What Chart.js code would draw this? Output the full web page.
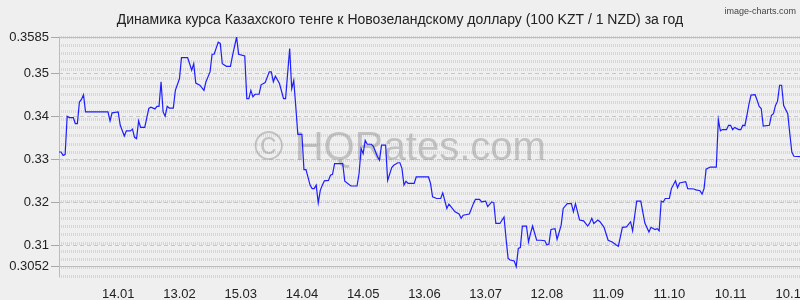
<!DOCTYPE html>
<html>
<head>
<meta charset="utf-8">
<script src="https://cdn.jsdelivr.net/npm/chart.js@4"></script>
<style>
  html, body { margin: 0; padding: 0; background: #efefef; overflow: hidden; }
  #wrap { width: 800px; height: 300px; position: relative; }
</style>
</head>
<body>
<div id="wrap"><canvas id="chart" width="800" height="300"></canvas></div>
<script>
const title = 'Динамика курса Казахского тенге к Новозеландскому доллару (100 KZT / 1 NZD) за год'

// day index from the first date of the period
const days = [
  0, 1, 2, 3, 4, 5, 7, 8, 9, 10, 11, 12, 13, 24, 25, 26, 29, 30, 32, 33,
  35, 36, 37, 38, 39, 40, 42, 44, 45, 47, 48, 49, 50, 51, 52, 53, 54, 56, 57, 59,
  60, 63, 64, 65, 66, 67, 69, 71, 72, 74, 75, 76, 78, 79, 80, 82, 84, 85, 87, 88,
  91, 92, 93, 94, 95, 96, 98, 99, 101, 103, 104, 105, 106, 108, 110, 111, 113, 114, 115, 116,
  117, 119, 120, 121, 123, 124, 125, 126, 127, 128, 129, 130, 132, 133, 134, 135, 139, 140, 143, 146,
  147, 148, 149, 150, 151, 153, 154, 156, 157, 158, 160, 161, 163, 164, 166, 167, 168, 169, 170, 171,
  174, 175, 181, 182, 183, 185, 187, 188, 190, 191, 192, 194, 196, 197, 198, 201, 203, 204, 206, 207,
  209, 210, 212, 213, 214, 216, 218, 219, 220, 221, 223, 224, 225, 226, 227, 229, 230, 231, 232, 234,
  236, 238, 239, 240, 241, 243, 244, 246, 247, 249, 251, 252, 253, 255, 257, 259, 260, 261, 262, 264,
  265, 267, 269, 271, 273, 274, 276, 278, 280, 281, 283, 285, 287, 289, 290, 292, 293, 294, 295, 296,
  297, 299, 300, 302, 303, 304, 307, 308, 311, 312, 314, 315, 316, 317, 319, 322, 323, 324, 325, 327,
  328, 329, 330, 331, 333, 334, 335, 336, 337, 338, 339, 341, 342, 343, 344, 345, 348, 349, 350, 351,
  352, 353, 354, 355, 357, 358, 359, 360, 363
]

const rates = [
  0.3318, 0.3318, 0.3310, 0.3312, 0.3401, 0.3398, 0.3398, 0.3384, 0.3384, 0.3434, 0.3440, 0.3451, 0.3411, 0.3411, 0.3390, 0.3409, 0.3411, 0.3380, 0.3355, 0.3367,
  0.3367, 0.3371, 0.3352, 0.3349, 0.3390, 0.3375, 0.3375, 0.3419, 0.3422, 0.3418, 0.3424, 0.3424, 0.3481, 0.3411, 0.3401, 0.3424, 0.3420, 0.3420, 0.3461, 0.3488,
  0.3537, 0.3537, 0.3523, 0.3508, 0.3523, 0.3478, 0.3473, 0.3461, 0.3481, 0.3504, 0.3545, 0.3545, 0.3573, 0.3570, 0.3523, 0.3517, 0.3517, 0.3542, 0.3585, 0.3545,
  0.3541, 0.3442, 0.3442, 0.3461, 0.3446, 0.3452, 0.3452, 0.3474, 0.3479, 0.3504, 0.3504, 0.3481, 0.3494, 0.3477, 0.3442, 0.3442, 0.3558, 0.3465, 0.3484, 0.3423,
  0.3359, 0.3359, 0.3277, 0.3277, 0.3241, 0.3233, 0.3233, 0.3241, 0.3200, 0.3229, 0.3241, 0.3251, 0.3252, 0.3264, 0.3266, 0.3291, 0.3291, 0.3250, 0.3239, 0.3239,
  0.3268, 0.3326, 0.3314, 0.3345, 0.3336, 0.3336, 0.3331, 0.3307, 0.3299, 0.3334, 0.3334, 0.3252, 0.3282, 0.3287, 0.3293, 0.3293, 0.3280, 0.3241, 0.3250, 0.3245,
  0.3245, 0.3260, 0.3260, 0.3245, 0.3214, 0.3210, 0.3210, 0.3223, 0.3187, 0.3197, 0.3191, 0.3179, 0.3174, 0.3164, 0.3171, 0.3174, 0.3198, 0.3208, 0.3208, 0.3202,
  0.3204, 0.3191, 0.3202, 0.3200, 0.3152, 0.3152, 0.3167, 0.3117, 0.3071, 0.3067, 0.3065, 0.3052, 0.3094, 0.3096, 0.3146, 0.3146, 0.3109, 0.3129, 0.3146, 0.3113,
  0.3113, 0.3112, 0.3102, 0.3104, 0.3138, 0.3140, 0.3115, 0.3148, 0.3187, 0.3198, 0.3198, 0.3179, 0.3198, 0.3160, 0.3158, 0.3146, 0.3153, 0.3164, 0.3152, 0.3160,
  0.3156, 0.3143, 0.3113, 0.3109, 0.3102, 0.3099, 0.3143, 0.3144, 0.3156, 0.3135, 0.3204, 0.3204, 0.3153, 0.3132, 0.3143, 0.3138, 0.3140, 0.3135, 0.3204, 0.3202,
  0.3210, 0.3210, 0.3233, 0.3251, 0.3235, 0.3246, 0.3249, 0.3233, 0.3232, 0.3230, 0.3228, 0.3220, 0.3233, 0.3278, 0.3283, 0.3283, 0.3393, 0.3367, 0.3370, 0.3370,
  0.3380, 0.3380, 0.3370, 0.3375, 0.3370, 0.3370, 0.3380, 0.3379, 0.3403, 0.3429, 0.3450, 0.3451, 0.3438, 0.3424, 0.3419, 0.3378, 0.3380, 0.3403, 0.3407, 0.3426,
  0.3436, 0.3473, 0.3473, 0.3426, 0.3407, 0.3361, 0.3318, 0.3308, 0.3307
]

const tickDays = [29, 59, 89, 119, 149, 179, 209, 239, 269, 299, 329, 359]
const tickLabels = ['14.01', '13.02', '15.03', '14.04', '14.05', '13.06', '13.07', '12.08', '11.09', '11.10', '10.11', '10.12']

const yTicks = [0.3052, 0.31, 0.32, 0.33, 0.34, 0.35, 0.3585]
const yTickLabels = ['0.3052', '0.31', '0.32', '0.33', '0.34', '0.35', '0.3585']
const majorLines = [0.31, 0.32, 0.33, 0.34, 0.35]
const edgeLines = [0.3052, 0.3585]

const yMin = 0.3030
const yMax = 0.3585
const font = '"Liberation Sans", Arial, sans-serif'

const noWidth = s => { s.width = 0; s.paddingTop = 0; s.paddingBottom = 0 }

const decor = {
  id: 'decor',
  beforeDatasetsDraw(chart) {
    const ctx = chart.ctx
    ctx.save()
    ctx.font = '40px ' + font
    ctx.fillStyle = 'rgba(140, 140, 140, 0.45)'
    ctx.textAlign = 'center'
    ctx.textBaseline = 'alphabetic'
    ctx.fillText('© HQRates.com', 400, 160)
    ctx.restore()
  },
  afterDraw(chart) {
    const ctx = chart.ctx
    ctx.save()
    ctx.fillStyle = '#222'
    ctx.textAlign = 'center'
    ctx.textBaseline = 'alphabetic'
    ctx.font = '14px ' + font
    ctx.fillText(title, 400, 24)
    ctx.textAlign = 'right'
    ctx.fillStyle = '#444'
    ctx.font = '9px ' + font
    ctx.fillText('image-charts.com', 796, 14)
    ctx.restore()
  }
}

new Chart(document.getElementById('chart'), {
  type: 'line',
  data: {
    datasets: [{
      data: days.map((d, i) => ({ x: d, y: rates[i] })),
      borderColor: 'rgb(30, 30, 255)',
      borderWidth: 1.2,
      pointRadius: 0,
      tension: 0,
      fill: false
    }]
  },
  options: {
    responsive: false,
    animation: false,
    events: [],
    layout: { autoPadding: false, padding: { top: 37, left: 0, right: 0, bottom: 0 } },
    plugins: { legend: { display: false }, title: { display: false }, tooltip: { enabled: false } },
    scales: {
      x: {
        type: 'linear',
        min: 0,
        max: 363,
        afterBuildTicks: s => { s.ticks = tickDays.map(v => ({ value: v })) },
        afterFit: s => { s.height = 24; s.paddingLeft = 0; s.paddingRight = 0 },
        ticks: {
          autoSkip: false,
          maxRotation: 0,
          padding: 3,
          color: '#222',
          font: { family: font, size: 13 },
          callback: (v, i) => tickLabels[i]
        },
        grid: { display: false },
        border: { display: false }
      },
      y: {
        position: 'left',
        min: yMin,
        max: yMax,
        afterBuildTicks: s => { s.ticks = yTicks.map(v => ({ value: v })) },
        afterFit: s => { s.width = 59; s.paddingTop = 0; s.paddingBottom = 0 },
        ticks: {
          padding: 2,
          color: '#222',
          font: { family: font, size: 13 },
          callback: (v, i) => yTickLabels[i]
        },
        grid: { drawOnChartArea: false, tickLength: 8, color: '#a8a8a8' },
        border: { display: true, color: '#bcbcbc', dash: [1, 1] }
      },
      yRows: {
        position: 'left',
        min: 0,
        max: 29,
        afterFit: noWidth,
        ticks: { display: false, stepSize: 1 },
        grid: { drawTicks: false, color: '#d6d6d6', lineWidth: 3 },
        border: { display: false, dash: [1, 1] }
      },
      yGrid: {
        position: 'left',
        min: yMin,
        max: yMax,
        afterFit: noWidth,
        afterBuildTicks: s => { s.ticks = majorLines.map(v => ({ value: v })) },
        ticks: { display: false },
        grid: { drawTicks: false, color: '#c6c6c6', lineWidth: 1 },
        border: { display: false, dash: [4, 3] }
      },
      yEdge: {
        position: 'left',
        min: yMin,
        max: yMax,
        afterFit: noWidth,
        afterBuildTicks: s => { s.ticks = edgeLines.map(v => ({ value: v })) },
        ticks: { display: false },
        grid: { drawTicks: false, color: '#bdbdbd', lineWidth: 1 },
        border: { display: false }
      }
    }
  },
  plugins: [decor]
})
</script>
</body>
</html>
